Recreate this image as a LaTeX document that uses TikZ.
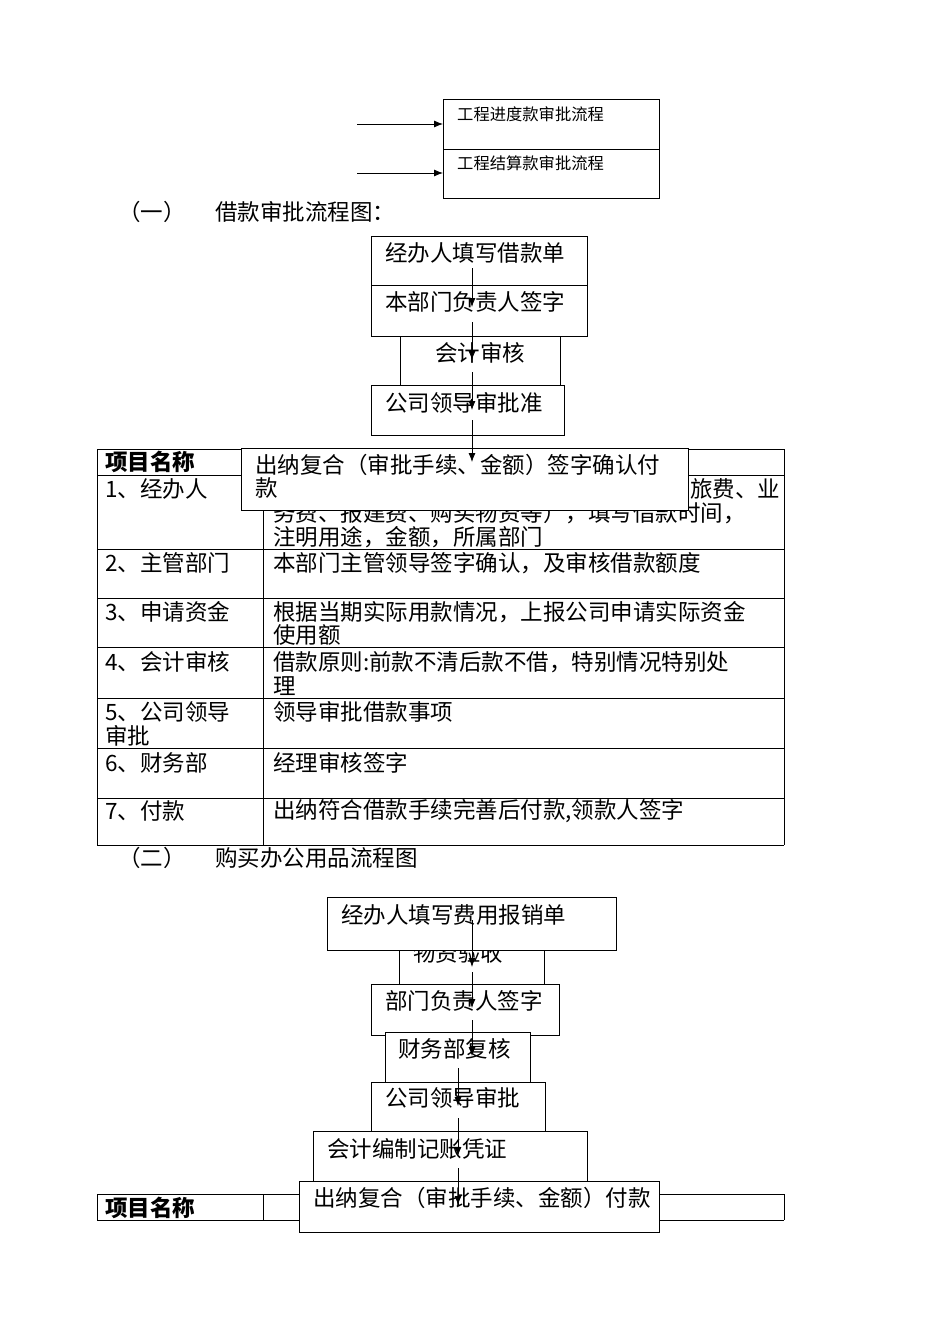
\documentclass[tikz,border=0pt]{standalone}
\usepackage{fontspec}
\setmainfont{Noto Sans CJK SC}
\usetikzlibrary{arrows.meta}
\begin{document}
\begin{tikzpicture}[x=1pt,y=-1pt,
 bx/.style={draw,line width=0.8pt,fill=white},
 tx/.style={anchor=west,inner sep=0pt,font=\fontsize{22.5}{24}\selectfont},
 sm/.style={anchor=west,inner sep=0pt,font=\fontsize{16.3}{18}\selectfont},
 ar/.style={-{Latex[length=9pt,width=7pt]},line width=0.8pt},
 ln/.style={line width=0.8pt}]
\useasboundingbox (0,0) rectangle (950,1344);
% top
\draw[bx] (443,99) rectangle (659,149);
\draw[bx] (443,149) rectangle (659,198);
\node[sm] (t1) at (457,114) {工程进度款审批流程};
\node[sm] (t2) at (457,163) {工程结算款审批流程};
\coordinate (s1) at (357,124); \coordinate (e1) at (443,124);
\coordinate (s2) at (357,173); \coordinate (e2) at (443,173);
\draw[ar] (s1) -- (e1); \draw[ar] (s2) -- (e2);
\node[tx] (h1) at (118,212) {（一）};
\node[tx] (h1b) at (215,212) {借款审批流程图：};
% flow 1
\draw[bx] (371,236) rectangle (587,285);
\draw[bx] (371,285) rectangle (587,336);
\draw[bx] (400,336) rectangle (560,385);
\draw[bx] (371,385) rectangle (564,435);
\node[tx] (a1) at (385,253) {经办人填写借款单};
\node[tx] (a2) at (385,302) {本部门负责人签字};
\node[tx] (a3) at (435,353) {会计审核};
\node[tx] (a4) at (385,403) {公司领导审批准};
% table 1
\foreach \y in {449,475,549,598,647,698,748,798,845} \draw[ln] (97,\y) -- (784,\y);
\draw[ln] (97,449) -- (97,845); \draw[ln] (263,449) -- (263,845); \draw[ln] (784,449) -- (784,845);
\node[tx,font=\fontsize{22.5}{24}\selectfont\bfseries] (th) at (105,462) {项目名称};
\node[tx] (r1) at (105,489) {1、经办人};
\node[tx] (d1a) at (690,489) {旅费、业};
\node[tx] (d1b) at (273,513) {务费、报建费、购买物资等），填写借款时间，};
\node[tx] (d1c) at (273,537) {注明用途，金额，所属部门};
\node[tx] (r2) at (105,563) {2、主管部门};
\node[tx] (d2) at (273,563) {本部门主管领导签字确认，及审核借款额度};
\node[tx] (r3) at (105,612) {3、申请资金};
\node[tx] (d3a) at (273,612) {根据当期实际用款情况，上报公司申请实际资金};
\node[tx] (d3b) at (273,635) {使用额};
\node[tx] (r4) at (105,662) {4、会计审核};
\node[tx] (d4a) at (273,662) {借款原则:前款不清后款不借，特别情况特别处};
\node[tx] (d4b) at (273,686) {理};
\node[tx] (r5a) at (105,712) {5、公司领导};
\node[tx] (r5b) at (105,736) {审批};
\node[tx] (d5) at (273,712) {领导审批借款事项};
\node[tx] (r6) at (105,763) {6、财务部};
\node[tx] (d6) at (273,763) {经理审核签字};
\node[tx] (r7) at (105,811) {7、付款};
\node[tx] (d7) at (273,811) {出纳符合借款手续完善后付款,领款人签字};
\draw[bx] (241,448) rectangle (688,510);
\node[tx] (a5a) at (255,465) {出纳复合（审批手续、金额）签字确认付};
\node[tx] (a5b) at (255,488) {款};
\coordinate (p1) at (472,268); \coordinate (q1) at (472,307);
\coordinate (p2) at (472,322); \coordinate (q2) at (472,360);
\coordinate (p3) at (472,372); \coordinate (q3) at (472,410);
\coordinate (p4) at (472,420); \coordinate (q4) at (472,462);
\draw[ar] (p1)--(q1); \draw[ar] (p2)--(q2); \draw[ar] (p3)--(q3); \draw[ar] (p4)--(q4);
% section 2
\node[tx] (h2) at (118,858) {（二）};
\node[tx] (h2b) at (215,858) {购买办公用品流程图};
\draw[bx] (399,945) rectangle (544,985);
\node[tx] (b2) at (413,953) {物资验收};
\draw[bx] (327,897) rectangle (616,950);
\node[tx] (b1) at (341,915) {经办人填写费用报销单};
\draw[bx] (371,984) rectangle (559,1035);
\node[tx] (b3) at (385,1001) {部门负责人签字};
\draw[bx] (385,1032) rectangle (530,1082);
\node[tx] (b4) at (398,1049) {财务部复核};
\draw[bx] (371,1082) rectangle (545,1132);
\node[tx] (b5) at (385,1098) {公司领导审批};
\draw[bx] (313,1131) rectangle (587,1181);
\node[tx] (b6) at (327,1149) {会计编制记账凭证};
\draw[ln] (97,1194) -- (784,1194); \draw[ln] (97,1220) -- (784,1220);
\draw[ln] (97,1194) -- (97,1220); \draw[ln] (263,1194) -- (263,1220); \draw[ln] (784,1194) -- (784,1220);
\node[tx,font=\fontsize{22.5}{24}\selectfont\bfseries] (th2) at (105,1208) {项目名称};
\draw[bx] (299,1181) rectangle (659,1232);
\node[tx] (b7) at (313,1198) {出纳复合（审批手续、金额）付款};
\coordinate (u1) at (472,920); \coordinate (v1) at (472,967);
\coordinate (u2) at (472,972); \coordinate (v2) at (472,1008);
\coordinate (u3) at (472,1020); \coordinate (v3) at (472,1056);
\coordinate (u4) at (458,1068); \coordinate (v4) at (458,1106);
\coordinate (u5) at (458,1118); \coordinate (v5) at (458,1156);
\coordinate (u6) at (458,1168); \coordinate (v6) at (458,1205);
\draw[ar] (u1)--(v1); \draw[ar] (u2)--(v2); \draw[ar] (u3)--(v3);
\draw[ar] (u4)--(v4); \draw[ar] (u5)--(v5); \draw[ar] (u6)--(v6);
\end{tikzpicture}
\end{document}
